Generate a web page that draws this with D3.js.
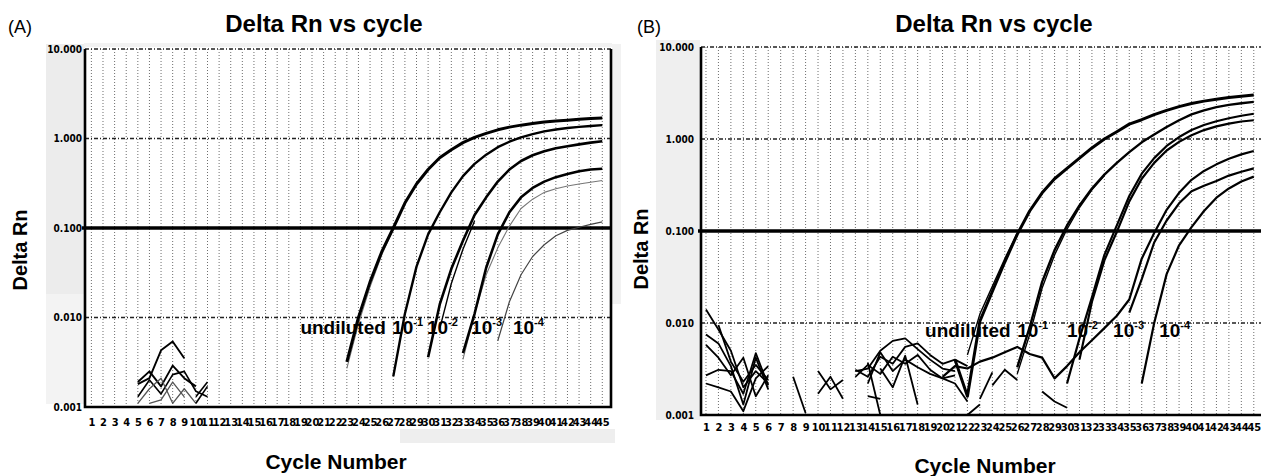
<!DOCTYPE html>
<html>
<head>
<meta charset="utf-8">
<script src="https://cdn.jsdelivr.net/npm/d3@7"></script>
<style>
  body { margin: 0; background: #fff; }
  svg { display: block; font-family: "Liberation Sans", Arial, sans-serif; }
</style>
</head>
<body>
<svg id="chart" width="1261" height="476"></svg>
<script>
// ---- data (Delta Rn per cycle) ----
const cycles = [1,2,3,4,5,6,7,8,9,10,11,12,13,14,15,16,17,18,19,20,21,22,23,24,25,26,27,28,29,30,
                31,32,33,34,35,36,37,38,39,40,41,42,43,44,45];
const yTicks = [0.001, 0.01, 0.1, 1, 10];
const threshold = 0.1;
const dilutionBase = ['undiluted', '10', '10', '10', '10'];
const dilutionExp = ['', '-1', '-2', '-3', '-4'];

// panel A amplification curves (first value is at the start cycle)
const aUndil  = [0.0032,0.010,0.025,0.054,0.10,0.19,0.31,0.45,0.61,0.75,0.90,1.03,1.14,1.25,1.34,1.41,1.47,1.53,1.57,1.60,1.64,1.67,1.69];
const aUndil2 = [0.0027,0.0085,0.022,0.050,0.097];
const a10m1   = [0.0022,0.011,0.037,0.085,0.15,0.25,0.38,0.52,0.66,0.80,0.92,1.03,1.12,1.20,1.26,1.31,1.35,1.38,1.41];
const a10m2   = [0.0036,0.014,0.035,0.072,0.14,0.22,0.33,0.45,0.56,0.65,0.72,0.78,0.82,0.86,0.90,0.93];
const a10m2b  = [0.0075,0.024,0.058,0.12];
const a10m3   = [0.004,0.011,0.036,0.085,0.15,0.22,0.28,0.33,0.37,0.40,0.43,0.45,0.46];
const a10m3b  = [0.0034,0.011,0.030,0.060,0.105,0.165,0.21,0.25,0.275,0.295,0.31,0.325,0.34];
const a10m4   = [0.0055,0.015,0.030,0.048,0.065,0.082,0.094,0.102,0.110,0.117];
// panel A background noise
const aNoise1 = [0.0018,0.0021,0.0043,0.0054,0.0035];
const aNoise2 = [0.0019,0.0025,0.0017,0.0029,0.0021,0.0017];
const aNoise3 = [0.0013,0.0020,0.0014,0.0023,0.0025,0.0015,0.0013];
const aNoise4 = [0.0011,0.0016,0.0021,0.0011,0.0016,0.0011];
const aNoise5 = [0.0011,0.0012,0.0019,0.0013];
const aNoise6 = [0.0013,0.0019];
const aNoise7 = [0.0011,0.0017];

// panel B amplification curves
const bUndil  = [0.0040,0.0016,0.0105,0.022,0.046,0.092,0.165,0.26,0.37,0.48,0.62,0.80,1.0,1.2,1.45,1.62,1.84,2.05,2.25,2.43,2.58,2.70,2.82,2.92,3.0];
const bUndil2 = [0.0045,0.0125,0.025,0.05,0.095];
const b10m1   = [0.0033,0.009,0.028,0.062,0.115,0.19,0.29,0.41,0.55,0.72,0.92,1.12,1.35,1.6,1.85,2.05,2.22,2.35,2.45,2.53];
const b10m1b  = [0.0028,0.0075,0.024,0.055,0.105,0.18,0.28,0.40];
const b10m2   = [0.0022,0.0068,0.019,0.055,0.115,0.24,0.42,0.62,0.84,1.05,1.25,1.42,1.56,1.68,1.79,1.88];
const b10m2b  = [0.0040,0.017,0.048,0.098,0.21,0.37,0.55,0.75,0.93,1.10,1.25,1.37,1.47,1.55,1.60];
const b10m3   = [0.0026,0.0034,0.0032,0.0038,0.0042,0.0048,0.0055,0.0046,0.0042,0.0025,0.0034,0.0048,0.0065,0.0088,0.012,0.018,0.05,0.095,0.17,0.26,0.36,0.45,0.53,0.61,0.68,0.74];
const b10m3b  = [0.013,0.030,0.075,0.13,0.20,0.27,0.31,0.35,0.40,0.44,0.48];
const b10m4   = [0.0022,0.010,0.034,0.070,0.11,0.165,0.23,0.29,0.345,0.39];
// panel B background noise
const bNoise1  = [0.014,0.0085,0.0050,0.0020,0.0030,0.0022];
const bNoise2  = [0.0075,0.0060,0.0034,0.0013,0.0042,0.0019];
const bNoise3  = [0.0058,0.0042,0.0027,0.0042,0.0016,0.0027];
const bNoise4  = [0.0027,0.0031,0.0030,0.0017,0.0047,0.0021];
const bNoise5  = [0.0022,0.0020,0.0018,0.0011,0.0025,0.0034];
const bNoise6  = [0.0095,0.0038,0.0023,0.0035,0.0024];
const bNoise7  = [0.0026,0.00105];
const bNoise8  = [0.0030,0.0019,0.0024];
const bNoise9  = [0.0017,0.0026,0.0015];
const bNoise10 = [0.0030,0.0032,0.0050,0.0064,0.0068,0.0052,0.0040,0.0032,0.0030];
const bNoise11 = [0.0031,0.0026,0.0043,0.0036,0.0055,0.0060,0.0045,0.0036,0.0040,0.0034];
const bNoise12 = [0.0022,0.0048,0.0030,0.0040,0.0033,0.0028,0.0025,0.0022,0.0014];
const bNoise13 = [0.0026,0.0035,0.0028,0.0043,0.0036,0.0045,0.0031,0.0025,0.0027];
const bNoise14 = [0.0016,0.0015];
const bNoise15 = [0.0032,0.0020,0.0044,0.0013];
const bNoise16 = [0.0037,0.0010];
const bNoise17 = [0.0010,0.0013];
const bNoise18 = [0.0015,0.0029];
const bNoise19 = [0.0021,0.0031,0.0024];
const bNoise20 = [0.0018,0.0014,0.0012];

// where each dilution label sits (cycle, Delta Rn)
const labelCycleA = [19.0, 26.9, 29.9, 33.7, 37.3];
const labelCycleB = [18.6, 26.0, 30.0, 33.7, 37.4];
const labelValueA = 0.0066;
const labelValueB = 0.0071;

// ---- series tables ----
const seriesA = [
  {from: 5, v: aNoise1, w: 1.9}, {from: 5, v: aNoise2, w: 1.9}, {from: 5, v: aNoise3, w: 1.6},
  {from: 5, v: aNoise4, w: 1.3, c: '#555'}, {from: 6, v: aNoise5, w: 1.3, c: '#555'},
  {from: 10, v: aNoise6, w: 1.6}, {from: 10, v: aNoise7, w: 1.6},
  {from: 23, v: aUndil2, w: 1.1, c: '#777'}, {from: 23, v: aUndil, w: 3},
  {from: 27, v: a10m1, w: 2.4}, {from: 30, v: a10m2, w: 2.6}, {from: 31, v: a10m2b, w: 1.4},
  {from: 33, v: a10m3b, w: 1.1, c: '#777'}, {from: 33, v: a10m3, w: 2.6},
  {from: 36, v: a10m4, w: 1.2, c: '#444'}
];
const seriesB = [
  {from: 1, v: bNoise1}, {from: 1, v: bNoise2}, {from: 1, v: bNoise3}, {from: 1, v: bNoise4},
  {from: 1, v: bNoise5}, {from: 2, v: bNoise6}, {from: 8, v: bNoise7}, {from: 10, v: bNoise8},
  {from: 10, v: bNoise9}, {from: 13, v: bNoise10}, {from: 13, v: bNoise11}, {from: 14, v: bNoise12},
  {from: 13, v: bNoise13}, {from: 14, v: bNoise14}, {from: 15, v: bNoise15}, {from: 14, v: bNoise16},
  {from: 22, v: bNoise17}, {from: 23, v: bNoise18}, {from: 24, v: bNoise19}, {from: 28, v: bNoise20},
  {from: 21, v: bUndil, w: 3}, {from: 22, v: bUndil2, w: 1.4},
  {from: 26, v: b10m1, w: 2.4}, {from: 26, v: b10m1b, w: 1.4},
  {from: 30, v: b10m2, w: 2.2}, {from: 31, v: b10m2b, w: 2.2},
  {from: 20, v: b10m3, w: 2.2}, {from: 35, v: b10m3b, w: 2.2},
  {from: 36, v: b10m4, w: 2.2}
];

const svg = d3.select('#chart');

// faint grey halftone patches of the scan
const patches = [
  [46, 44, 39, 250, '#ececec'], [46, 294, 39, 110, '#f3f3f3'], [400, 429, 215, 14, '#eeeeee'],
  [612, 44, 9, 260, '#f2f2f2'], [656, 40, 44, 380, '#efefef'], [84, 43, 528, 4, '#f2f2f2']
];
svg.selectAll('rect.patch').data(patches).enter().append('rect')
  .attr('class', 'patch')
  .attr('x', d => d[0]).attr('y', d => d[1]).attr('width', d => d[2]).attr('height', d => d[3])
  .attr('fill', d => d[4]);

function drawPanel(p) {
  const x = d3.scaleLinear().domain(p.xDomain).range([p.left, p.right]);
  const y = d3.scaleLog().domain([0.001, 10]).range([p.bottom, p.top]);
  const g = svg.append('g');

  // vertical dotted grid, one per cycle
  g.selectAll('line.vg').data(cycles).enter().append('line')
    .attr('x1', d => x(d)).attr('x2', d => x(d))
    .attr('y1', p.top).attr('y2', p.bottom)
    .attr('stroke', '#6e6e6e').attr('stroke-width', 1).attr('stroke-dasharray', '1,2');

  // decade grid lines
  g.selectAll('line.hg').data([10, 1, 0.01]).enter().append('line')
    .attr('x1', p.left).attr('x2', p.right)
    .attr('y1', d => y(d)).attr('y2', d => y(d))
    .attr('stroke', '#222').attr('stroke-width', 1.3).attr('stroke-dasharray', '4,2,1,2');

  // frame
  g.append('path')
    .attr('d', `M${p.left},${p.top}V${p.bottom}H${p.right}V${p.top}`)
    .attr('fill', 'none').attr('stroke', '#000').attr('stroke-width', 2.6);

  // threshold
  g.append('line')
    .attr('x1', p.left - 3).attr('x2', p.right)
    .attr('y1', y(threshold)).attr('y2', y(threshold))
    .attr('stroke', '#000').attr('stroke-width', 3.4);

  const line = d3.line()
    .x(d => x(d.c)).y(d => y(d.v))
    .curve(d3.curveLinear);

  g.selectAll('path.s').data(p.series).enter().append('path')
    .attr('d', s => line(s.v.map((v, i) => ({c: s.from + i, v}))))
    .attr('fill', 'none')
    .attr('stroke', s => s.c || '#000')
    .attr('stroke-width', s => s.w || 1.8)
    .attr('stroke-linejoin', 'round');

  // axes
  const xa = g.append('g').attr('transform', `translate(0,${p.bottom})`)
    .call(d3.axisBottom(x).tickValues(cycles).tickSize(0).tickPadding(p.xPad));
  xa.select('.domain').remove();
  xa.selectAll('text')
    .attr('font-family', '"Liberation Sans Narrow", "DejaVu Sans Condensed", sans-serif')
    .attr('font-size', 11).attr('font-weight', 'bold').attr('fill', '#000');

  const ya = g.append('g').attr('transform', `translate(${p.left},0)`)
    .call(d3.axisLeft(y).tickValues(yTicks).tickFormat(d3.format('.3f')).tickSize(0).tickPadding(p.yPad));
  ya.select('.domain').remove();
  ya.selectAll('text')
    .attr('font-family', '"Liberation Sans Narrow", "DejaVu Sans Condensed", sans-serif')
    .attr('font-size', 10).attr('font-weight', 'bold').attr('fill', '#000');

  // dilution labels
  const lab = g.selectAll('text.lab').data(dilutionBase).enter().append('text')
    .attr('x', (d, i) => x(p.labelCycles[i]))
    .attr('y', y(p.labelValue))
    .attr('font-size', 19).attr('font-weight', 'bold').attr('fill', '#000')
    .text(d => d);
  lab.append('tspan')
    .attr('font-size', 11).attr('dy', -8)
    .text((d, i) => dilutionExp[i]);

  // titles
  svg.append('text').attr('x', p.titleX).attr('y', 32).attr('text-anchor', 'middle')
    .attr('font-size', 24).attr('font-weight', 'bold').text('Delta Rn vs cycle');
  svg.append('text').attr('x', p.tagX).attr('y', 33)
    .attr('font-size', 18).text(p.tag);
  svg.append('text').attr('x', p.xTitleX).attr('y', p.xTitleY).attr('text-anchor', 'middle')
    .attr('font-size', 21).attr('font-weight', 'bold').text('Cycle Number');
  svg.append('text')
    .attr('transform', `translate(${p.yTitleX},${p.yTitleY}) rotate(-90)`)
    .attr('text-anchor', 'middle')
    .attr('font-size', 20).attr('font-weight', 'bold').text('Delta Rn');
}

drawPanel({
  left: 85, right: 611, top: 49, bottom: 407, xDomain: [0.45, 45.75],
  series: seriesA, xPad: 11, yPad: 3,
  labelCycles: labelCycleA, labelValue: labelValueA,
  titleX: 324, tag: '(A)', tagX: 8, xTitleX: 336, xTitleY: 469, yTitleX: 27, yTitleY: 250
});
drawPanel({
  left: 701, right: 1262.5, top: 47, bottom: 415, xDomain: [0.6, 45.7],
  series: seriesB, xPad: 8, yPad: 7,
  labelCycles: labelCycleB, labelValue: labelValueB,
  titleX: 994, tag: '(B)', tagX: 637, xTitleX: 985, xTitleY: 473, yTitleX: 648, yTitleY: 249
});
</script>
</body>
</html>
